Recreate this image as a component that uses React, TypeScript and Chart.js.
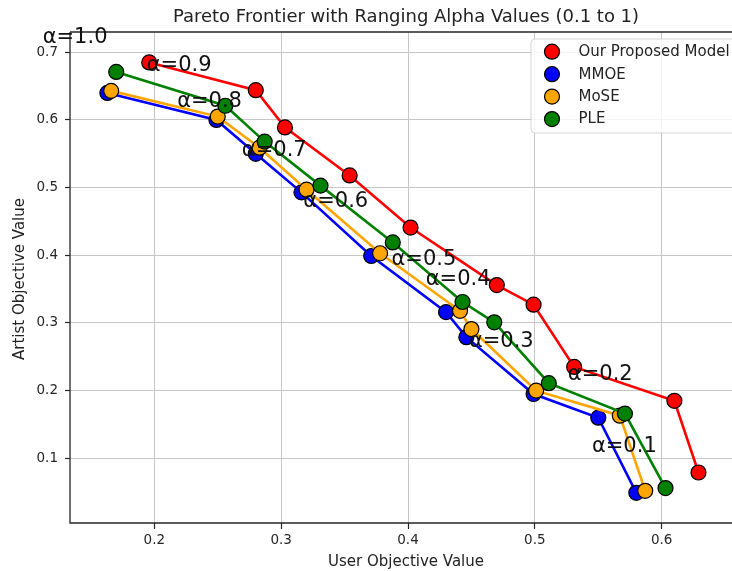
import React, { useEffect, useRef } from "react";
import { Chart, registerables } from "chart.js";

Chart.register(...registerables);

const seriesNames = ["Our Proposed Model", "MMOE", "MoSE", "PLE"];
const seriesColors = ["#ff0000", "#0000ff", "#ffa500", "#008000"];

const redX = [0.196, 0.28, 0.303, 0.354, 0.402, 0.47, 0.499, 0.531, 0.61, 0.629];
const redY = [0.685, 0.644, 0.589, 0.518, 0.441, 0.356, 0.327, 0.235, 0.185, 0.079];
const blueX = [0.163, 0.249, 0.28, 0.316, 0.371, 0.43, 0.446, 0.499, 0.55, 0.58];
const blueY = [0.64, 0.6, 0.55, 0.493, 0.399, 0.316, 0.279, 0.195, 0.16, 0.049];
const orangeX = [0.166, 0.25, 0.283, 0.32, 0.378, 0.441, 0.45, 0.501, 0.567, 0.587];
const orangeY = [0.643, 0.605, 0.559, 0.497, 0.403, 0.318, 0.291, 0.2, 0.163, 0.052];
const greenX = [0.17, 0.256, 0.287, 0.331, 0.388, 0.443, 0.468, 0.511, 0.571, 0.603];
const greenY = [0.671, 0.621, 0.568, 0.503, 0.419, 0.331, 0.301, 0.211, 0.166, 0.056];

const alphaLabels = ["α=1.0", "α=0.9", "α=0.8", "α=0.7", "α=0.6", "α=0.5", "α=0.4", "α=0.3", "α=0.2", "α=0.1"];
const alphaLabelX = [0.112, 0.194, 0.218, 0.269, 0.3175, 0.387, 0.414, 0.448, 0.526, 0.545];
const alphaLabelY = [0.714, 0.673, 0.619, 0.547, 0.472, 0.386, 0.356, 0.264, 0.216, 0.109];

const xTicks = [0.2, 0.3, 0.4, 0.5, 0.6];
const yTicks = [0.1, 0.2, 0.3, 0.4, 0.5, 0.6, 0.7];
const xMin = 0.13354;
const xMax = 0.65542;
const yMin = 0.00439;
const yMax = 0.73;

const titleText = "Pareto Frontier with Ranging Alpha Values (0.1 to 1)";
const xTitle = "User Objective Value";
const yTitle = "Artist Objective Value";

const FONT = "'DejaVu Sans', sans-serif";

const zip = (xs: number[], ys: number[]) => xs.map((x, i) => ({ x, y: ys[i] }));

const overlayPlugin = {
  id: "overlay",
  beforeDatasetsDraw(chart: any) {
    const ctx = chart.ctx;
    const a = chart.chartArea;
    ctx.save();
    ctx.strokeStyle = "#262626";
    ctx.lineWidth = 1.3;
    ctx.beginPath();
    ctx.moveTo(a.left, a.top);
    ctx.lineTo(a.left, a.bottom);
    ctx.lineTo(a.right + 2, a.bottom);
    ctx.moveTo(a.left, a.top);
    ctx.lineTo(a.right + 2, a.top);
    ctx.stroke();
    ctx.restore();
  },
  afterDatasetsDraw(chart: any) {
    const ctx = chart.ctx;
    const xs = chart.scales.x;
    const ys = chart.scales.y;
    ctx.save();
    // alpha annotations
    ctx.fillStyle = "#111";
    ctx.font = `21px ${FONT}`;
    ctx.textAlign = "left";
    ctx.textBaseline = "alphabetic";
    alphaLabels.forEach((t, i) => {
      ctx.fillText(t, xs.getPixelForValue(alphaLabelX[i]), ys.getPixelForValue(alphaLabelY[i]));
    });

    // title
    ctx.fillStyle = "#222";
    ctx.font = `18px ${FONT}`;
    ctx.textAlign = "center";
    ctx.fillText(titleText, 406, 21.5);

    // axis titles
    ctx.font = `15px ${FONT}`;
    ctx.fillText(xTitle, 406, 566);
    ctx.save();
    ctx.translate(24, 279);
    ctx.rotate(-Math.PI / 2);
    ctx.fillText(yTitle, 0, 0);
    ctx.restore();

    // legend
    const bx = 531, by = 39, bw = 206, bh = 94, r = 4;
    ctx.beginPath();
    ctx.moveTo(bx + r, by);
    ctx.lineTo(bx + bw - r, by);
    ctx.quadraticCurveTo(bx + bw, by, bx + bw, by + r);
    ctx.lineTo(bx + bw, by + bh - r);
    ctx.quadraticCurveTo(bx + bw, by + bh, bx + bw - r, by + bh);
    ctx.lineTo(bx + r, by + bh);
    ctx.quadraticCurveTo(bx, by + bh, bx, by + bh - r);
    ctx.lineTo(bx, by + r);
    ctx.quadraticCurveTo(bx, by, bx + r, by);
    ctx.closePath();
    ctx.fillStyle = "rgba(255,255,255,0.8)";
    ctx.fill();
    ctx.strokeStyle = "rgba(204,204,204,0.8)";
    ctx.lineWidth = 1;
    ctx.stroke();

    seriesNames.forEach((name, i) => {
      const cy = 51.7 + i * 22.45;
      ctx.beginPath();
      ctx.arc(552, cy, 7.5, 0, Math.PI * 2);
      ctx.fillStyle = seriesColors[i];
      ctx.fill();
      ctx.strokeStyle = "#000";
      ctx.lineWidth = 1.2;
      ctx.stroke();
      ctx.fillStyle = "#222";
      ctx.font = `15px ${FONT}`;
      ctx.textAlign = "left";
      ctx.textBaseline = "middle";
      ctx.fillText(name, 578.5, cy + 0.5);
    });
    ctx.restore();
  },
};

export default function App() {
  const ref = useRef<HTMLCanvasElement | null>(null);

  useEffect(() => {
    document.body.style.margin = "0";
    document.documentElement.style.overflow = "hidden";
    const canvas = ref.current;
    if (!canvas) return;
    const xs = [redX, blueX, orangeX, greenX];
    const ysArr = [redY, blueY, orangeY, greenY];
    const datasets = seriesNames.map((name, i) => ({
      label: name,
      data: zip(xs[i], ysArr[i]),
      showLine: true,
      borderColor: seriesColors[i],
      backgroundColor: seriesColors[i],
      borderWidth: 2.6,
      pointRadius: 7.5,
      pointBackgroundColor: seriesColors[i],
      pointBorderColor: "#000",
      pointBorderWidth: 1.2,
      order: seriesNames.length - i,
      clip: false as any,
    }));

    const chart = new Chart(canvas, {
      type: "scatter",
      data: { datasets },
      options: {
        animation: false,
        responsive: false,
        devicePixelRatio: 1,
        layout: { padding: { top: 32, right: 0, left: 0, bottom: 0 }, autoPadding: false },
        plugins: {
          legend: { display: false },
          title: { display: false },
          tooltip: { enabled: false },
        },
        scales: {
          x: {
            type: "linear",
            min: xMin,
            max: xMax,
            afterBuildTicks: (s: any) => {
              s.ticks = xTicks.map((v) => ({ value: v }));
            },
            afterFit: (s: any) => {
              s.height = 48;
            },
            border: { display: false },
            grid: {
              color: "#c6c6c6",
              lineWidth: 1,
              drawTicks: true,
              tickLength: 6,
              tickColor: "#262626",
              tickWidth: 1.2,
            },
            ticks: {
              padding: 3,
              color: "#262626",
              font: { family: FONT, size: 13.5 },
              callback: (v: any) => Number(v).toFixed(1),
              maxRotation: 0,
              autoSkip: false,
            },
          },
          y: {
            type: "linear",
            min: yMin,
            max: yMax,
            afterBuildTicks: (s: any) => {
              s.ticks = yTicks.map((v) => ({ value: v }));
            },
            afterFit: (s: any) => {
              s.width = 70;
            },
            border: { display: false },
            grid: {
              color: "#c6c6c6",
              lineWidth: 1,
              drawTicks: true,
              tickLength: 5,
              tickColor: "#262626",
              tickWidth: 1.2,
            },
            ticks: {
              padding: 7,
              color: "#262626",
              font: { family: FONT, size: 13.5 },
              callback: (v: any) => Number(v).toFixed(1),
              autoSkip: false,
            },
          },
        },
      },
      plugins: [overlayPlugin],
    });
    return () => chart.destroy();
  }, []);

  return <canvas ref={ref} width={732} height={571} style={{ display: "block" }} />;
}
